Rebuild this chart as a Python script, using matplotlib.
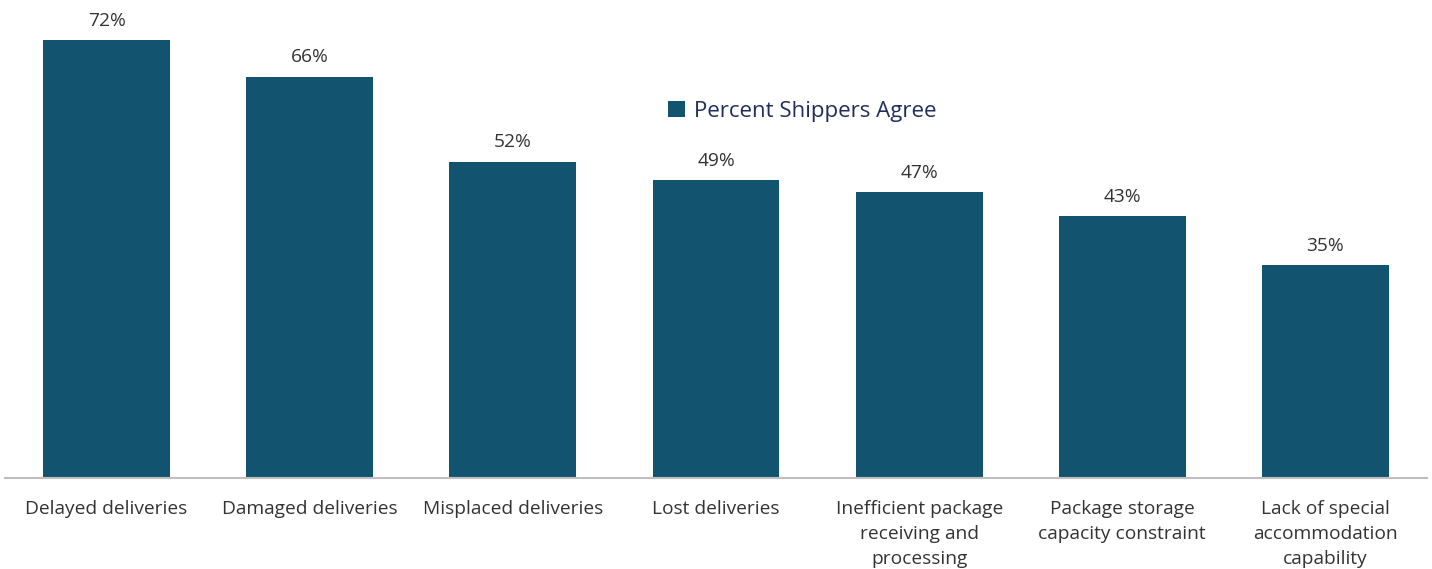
import matplotlib.pyplot as plt

plt.rcParams['font.family'] = ['Open Sans', 'DejaVu Sans']

categories = ["Delayed deliveries", "Damaged deliveries", "Misplaced deliveries",
              "Lost deliveries", "Inefficient package\nreceiving and\nprocessing",
              "Package storage\ncapacity constraint", "Lack of special\naccommodation\ncapability"]
values = [72, 66, 52, 49, 47, 43, 35]
series_name = "Percent Shippers Agree"

bar_color = '#12546F'

fig = plt.figure(figsize=(14.32, 5.69), dpi=100)
ax = fig.add_axes([5 / 1432, 91 / 569, 1422 / 1432, 478 / 569])

x = range(len(categories))
bars = ax.bar(x, values, width=0.625, color=bar_color, label=series_name)

for b, v in zip(bars, values):
    ax.annotate(f"{v}%", xy=(b.get_x() + b.get_width() / 2, v), xytext=(0, 7.5),
                textcoords='offset points', ha='center', va='bottom',
                fontsize=13.8, color='#333333', clip_on=False)

ax.set_xlim(-0.5, len(categories) - 0.5)
ax.set_ylim(0, 78.6)
ax.set_xticks(list(x))
ax.set_xticklabels(categories, fontsize=13.8, color='#333333', linespacing=1.5)
ax.tick_params(axis='x', length=0, pad=16)
ax.set_yticks([])
for s in ['top', 'right', 'left']:
    ax.spines[s].set_visible(False)
ax.spines['bottom'].set_color('#BFBFBF')
ax.spines['bottom'].set_linewidth(1.5)

leg = fig.legend(loc='center', bbox_to_anchor=(802 / 1432, 1 - 111 / 569), frameon=False,
                 handlelength=0.75, handleheight=0.75, handletextpad=0.4,
                 prop={'size': 16})
for t in leg.get_texts():
    t.set_color('#1F2D5C')

fig.savefig('out.png', dpi=100)
